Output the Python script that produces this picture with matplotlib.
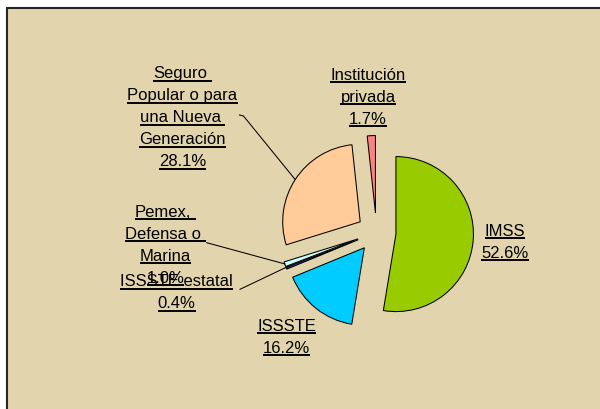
import matplotlib
matplotlib.use("Agg")
import matplotlib.pyplot as plt
from matplotlib.patches import Rectangle
from matplotlib.lines import Line2D

# ---- data ----
categories = ["IMSS", "ISSSTE", "ISSSTE estatal", "Pemex, Defensa o Marina",
              "Seguro Popular o para una Nueva Generación", "Institución privada"]
label_lines = [["IMSS"], ["ISSSTE"], ["ISSSTE estatal"],
               ["Pemex, ", "Defensa o ", "Marina"],
               ["Seguro ", "Popular o para", "una Nueva ", "Generación"],
               ["Institución", "privada"]]
values = [52.6, 16.2, 0.4, 1.0, 28.1, 1.7]
colors = ["#99CC00", "#00CCFF", "#333399", "#CCFFFF", "#FFCC99", "#FF8080"]

# ---- layout (pixel space, y from top) ----
W, H = 600, 409
BG = "#E2D5AE"
label_pos = [(505, 238.3), (286.7, 333.3), (176.7, 288.5),
             (165.5, 219.3), (182.5, 80.7), (368, 82.3)]
LINE_STEP = 22.0
leaders = {3: [(206.7, 242.7), (285, 264)],
           2: [(240, 289.3), (289, 266)],
           4: [(239.5, 115), (243.5, 116), (295, 179.3)]}
FS = 12

fig = plt.figure(figsize=(W / 100, H / 100), dpi=100)
fig.patch.set_facecolor("white")
ax = fig.add_axes([0, 0, 1, 1])


def Y(py):
    return H - py


ax.add_patch(Rectangle((7, Y(420)), 620, 412, facecolor=BG,
                       edgecolor="#262626", linewidth=1.5, zorder=0))

ax.pie(values, colors=colors, startangle=90, counterclock=False,
       explode=[19.5] * len(values), radius=77.5, center=(376.5, Y(232.5)),
       wedgeprops=dict(edgecolor="black", linewidth=0.75), frame=False)

ax.set_xlim(0, W)
ax.set_ylim(0, H)
ax.set_aspect("auto")
ax.axis("off")

for i, pts in leaders.items():
    xs = [p[0] for p in pts]
    ys = [Y(p[1]) for p in pts]
    ax.add_line(Line2D(xs, ys, color="black", linewidth=0.75, zorder=3))

space_px = 0.278 * FS * 100 / 72
texts = []
for i, (lines, v) in enumerate(zip(label_lines, values)):
    cx, uy0 = label_pos[i]
    all_lines = lines + [f"{v:.1f}%"]
    for k, ln in enumerate(all_lines):
        uy = uy0 + k * LINE_STEP
        base = uy - 2.5
        stripped = ln.rstrip(" ")
        nsp = len(ln) - len(stripped)
        t = ax.text(cx - nsp * space_px / 2, Y(base), stripped, ha="center",
                    va="baseline", fontsize=FS, family="Liberation Sans",
                    color="black", zorder=5)
        texts.append((t, uy, nsp))

fig.canvas.draw()
r = fig.canvas.get_renderer()
inv = ax.transData.inverted()
for t, uy, nsp in texts:
    bb = t.get_window_extent(r)
    x0 = inv.transform((bb.x0, bb.y0))[0]
    x1 = inv.transform((bb.x1, bb.y0))[0] + nsp * space_px
    ax.add_line(Line2D([x0, x1], [Y(uy), Y(uy)], color="black",
                       linewidth=1.4, zorder=5, solid_capstyle="butt"))

fig.savefig("out.png", dpi=100, facecolor=fig.get_facecolor())
